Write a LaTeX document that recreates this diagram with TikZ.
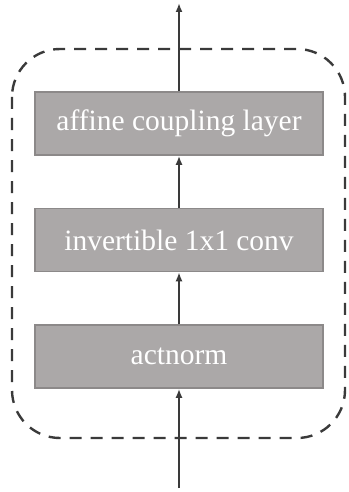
\documentclass[tikz,border=0pt]{standalone}
\usepackage{fontspec}
\setmainfont{Liberation Serif}
\usetikzlibrary{arrows.meta}
\definecolor{boxfill}{HTML}{ABA8A8}
\definecolor{boxline}{HTML}{8C8989}
\definecolor{ink}{HTML}{3A3A3A}
\begin{document}
\begin{tikzpicture}[x=1pt,y=-1pt,
  layer/.style={draw=boxline, line width=1.5pt, fill=boxfill, text=white,
    minimum width=288pt, minimum height=63pt, inner sep=0pt,
    font=\fontsize{29.5}{32}\selectfont},
  flow/.style={draw=ink, line width=2pt, -{Latex[length=9pt,width=7pt]}},
  block/.style={draw=ink, line width=2.4pt, dash pattern=on 12pt off 9pt, rounded corners=48pt}]
  \useasboundingbox (0,0) rectangle (348,492);
  % dashed frame around the flow step
  \draw[block] (12,49) rectangle (345,438);
  % the three layers of one step
  \node[layer] (act)  at (179,356.5) {actnorm};
  \node[layer] (conv) at (179,240)   {invertible 1x1 conv};
  \node[layer] (cpl)  at (179,123.5) {affine coupling layer};
  \coordinate (in)  at (179,488);
  \coordinate (out) at (179,3);
  % data flow
  \draw[flow] (in) -- (act.south);
  \draw[flow] (act.north) -- (conv.south);
  \draw[flow] (conv.north) -- (cpl.south);
  \draw[flow] (cpl.north) -- (out);
\end{tikzpicture}
\end{document}
